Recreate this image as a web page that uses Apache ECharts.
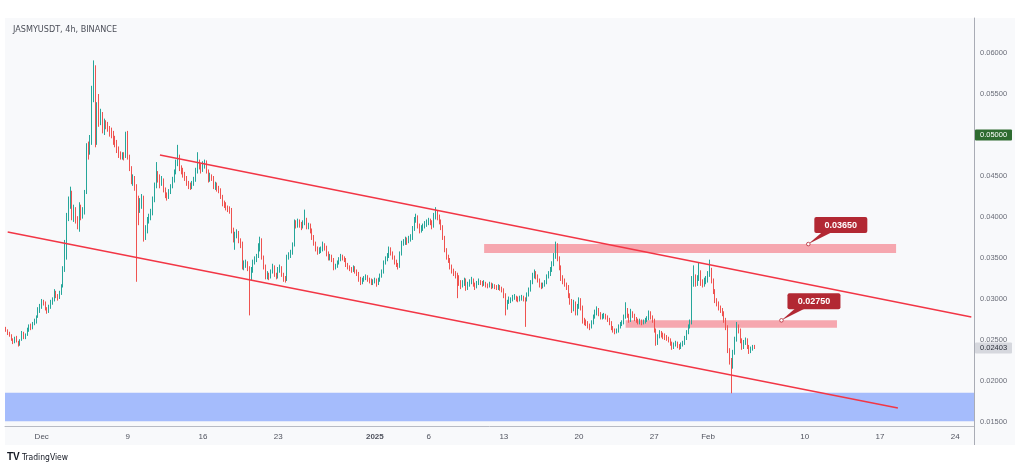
<!DOCTYPE html>
<html><head><meta charset="utf-8">
<script src="https://cdn.jsdelivr.net/npm/echarts@6/dist/echarts.min.js"></script>
<style>html,body{margin:0;padding:0;background:#fff}#c{width:1024px;height:471px}</style>
</head><body><div id="c"></div>
<script>
// ---------------- data ----------------
const chartTitle = 'JASMYUSDT, 4h, BINANCE';
const startTime = '2024-11-27T16:00:00Z';   // first 4h candle
const barHours = 4;
const slotCount = 541;                       // candles + empty future slots on the time axis
const priceUnit = 1e-5;                      // candle values below are in units of 0.00001
// [open, close, low, high]
const candles = [
[2640,2620,2600,2660],[2620,2580,2560,2630],
[2580,2560,2540,2600],[2560,2500,2490,2570],[2500,2470,2450,2520],[2470,2520,2460,2540],[2520,2480,2470,2550],[2480,2440,2420,2490],
[2440,2500,2430,2510],[2500,2590,2490,2610],[2590,2520,2510,2600],[2520,2560,2510,2580],[2560,2620,2550,2650],[2620,2660,2600,2690],
[2660,2640,2620,2700],[2640,2700,2630,2720],[2700,2720,2680,2760],[2720,2780,2700,2800],[2780,2850,2770,2900],[2850,2900,2830,2940],
[2900,2960,2880,3000],[2960,2950,2920,2990],[2950,2880,2860,2970],[2880,2840,2820,2900],[2840,2900,2830,2930],[2900,2950,2880,2990],
[2950,2990,2930,3020],[2990,3070,2970,3120],[3070,3040,3010,3100],[3040,3010,2980,3060],[3010,3060,3000,3100],[3060,3150,3050,3180],
[3150,3350,3140,3400],[3350,3680,3330,3720],[3680,4000,3480,4050],[4000,4150,3950,4250],[4150,4290,4100,4370],[4290,4000,3960,4320],
[4000,4080,3940,4150],[4080,3960,3920,4120],[3960,3900,3850,4010],[3900,4120,3820,4180],[4120,4000,3960,4150],[4000,4050,3980,4120],
[4050,4290,4030,4330],[4290,4850,4280,4900],[4850,4800,4700,4920],[4800,4900,4760,5000],[4900,5450,4880,5600],[5450,5790,5400,5910],
[5790,4900,4850,5850],[4900,5300,4880,5400],[5300,5180,5100,5500],[5180,5250,5120,5320],[5250,5060,5020,5280],[5060,5150,5000,5200],
[5150,5120,5070,5180],[5120,5080,5040,5160],[5080,5040,4980,5110],[5040,5000,4960,5090],[5000,4950,4880,5050],[4950,4900,4850,4990],
[4900,4820,4780,4940],[4820,4780,4720,4860],[4780,4730,4700,4800],[4730,4760,4700,4790],[4760,4730,4690,4790],[4730,5020,4720,5040],
[5020,4730,4700,5050],[4730,4600,4560,4760],[4600,4450,4400,4620],[4450,4480,4380,4520],[4480,4370,4320,4500],[4370,4240,3210,4400],
[4240,4090,3900,4260],[4090,4150,4050,4230],[4150,4240,4100,4280],[4240,3780,3700,4260],[3780,3850,3720,3900],[3850,3960,3800,4000],
[3960,3990,3920,4040],[3990,4050,3960,4100],[4050,4200,4020,4250],[4200,4370,4180,4420],[4370,4520,4350,4670],[4520,4480,4420,4560],
[4480,4400,4350,4520],[4400,4450,4380,4500],[4450,4330,4300,4470],[4330,4280,4230,4360],[4280,4240,4200,4300],[4240,4300,4220,4340],
[4300,4370,4280,4400],[4370,4450,4350,4490],[4450,4540,4420,4580],[4540,4650,4520,4700],[4650,4730,4620,4880],[4730,4600,4560,4760],
[4600,4570,4520,4630],[4570,4520,4480,4600],[4520,4480,4440,4550],[4480,4410,4380,4500],[4410,4390,4340,4440],[4390,4370,4330,4420],
[4370,4400,4340,4440],[4400,4450,4380,4490],[4450,4550,4430,4600],[4550,4660,4530,4790],[4660,4620,4580,4700],[4620,4570,4530,4650],
[4570,4620,4550,4680],[4620,4660,4590,4700],[4660,4560,4530,4690],[4560,4450,4420,4580],[4450,4500,4430,4540],[4500,4480,4440,4520],
[4480,4370,4340,4500],[4370,4400,4330,4430],[4400,4350,4310,4420],[4350,4330,4290,4380],[4330,4250,4220,4350],[4250,4170,4130,4270],
[4170,4150,4110,4200],[4150,4120,4080,4180],[4120,4100,4060,4140],[4100,4090,4040,4130],[4090,3840,3800,4110],[3840,3740,3690,3870],
[3740,3780,3600,3820],[3780,3800,3740,3850],[3800,3720,3680,3830],[3720,3680,3620,3740],[3680,3390,3360,3700],[3390,3420,3350,3470],
[3420,3440,3380,3480],[3440,3380,3340,3460],[3380,3270,2800,3400],[3270,3350,3230,3390],[3350,3440,3320,3480],[3440,3480,3420,3520],
[3480,3510,3450,3550],[3510,3600,3500,3680],[3600,3720,3580,3760],[3720,3510,3480,3740],[3510,3400,3360,3530],[3400,3270,3240,3420],
[3270,3300,3240,3340],[3300,3270,3230,3320],[3270,3330,3250,3360],[3330,3390,3310,3430],[3390,3300,3270,3410],[3300,3270,3240,3320],
[3270,3350,3250,3390],[3350,3380,3320,3420],[3380,3300,3270,3400],[3300,3250,3210,3320],[3250,3230,3200,3280],[3230,3510,3220,3540],
[3510,3530,3480,3570],[3530,3560,3500,3600],[3560,3650,3540,3690],[3650,3930,3640,3970],[3930,3900,3860,3960],[3900,3940,3870,3980],
[3940,3910,3870,3970],[3910,3880,3840,3940],[3880,3920,3860,3960],[3920,3960,3900,4090],[3960,3880,3850,3990],[3880,3900,3850,3930],
[3900,3840,3800,3920],[3840,3760,3720,3860],[3760,3680,3650,3780],[3680,3620,3580,3700],[3620,3570,3540,3640],[3570,3590,3550,3630],
[3590,3600,3560,3640],[3600,3650,3580,3700],[3650,3630,3590,3680],[3630,3560,3520,3650],[3560,3500,3470,3580],[3500,3520,3470,3550],
[3520,3480,3450,3540],[3480,3380,3350,3500],[3380,3400,3360,3430],[3400,3440,3380,3470],[3440,3480,3420,3510],[3480,3510,3460,3550],
[3510,3500,3470,3540],[3500,3480,3450,3520],[3480,3420,3390,3500],[3420,3390,3360,3440],[3390,3370,3340,3410],[3370,3350,3320,3390],
[3350,3380,3330,3410],[3380,3340,3310,3400],[3340,3320,3280,3360],[3320,3250,3210,3330],[3250,3200,3170,3270],[3200,3230,3180,3260],
[3230,3250,3210,3280],[3250,3270,3230,3300],[3270,3240,3210,3290],[3240,3230,3190,3260],[3230,3200,3170,3250],[3200,3210,3170,3240],
[3210,3230,3190,3260],[3230,3190,3150,3250],[3190,3230,3170,3260],[3230,3280,3210,3310],[3280,3320,3260,3360],[3320,3440,3310,3470],
[3440,3480,3420,3520],[3480,3520,3460,3560],[3520,3600,3500,3640],[3600,3560,3530,3630],[3560,3510,3480,3580],[3510,3460,3420,3530],
[3460,3420,3390,3480],[3420,3390,3360,3440],[3390,3550,3380,3580],[3550,3680,3530,3710],[3680,3690,3650,3730],[3690,3720,3660,3760],
[3720,3700,3660,3750],[3700,3730,3680,3770],[3730,3740,3700,3790],[3740,3850,3720,3890],[3850,3960,3830,4000],[3960,4000,3930,4040],
[4000,3900,3860,4020],[3900,3840,3800,3920],[3840,3860,3810,3900],[3860,3880,3830,3920],[3880,3910,3860,3950],[3910,3930,3880,3970],
[3930,3960,3900,3990],[3960,3940,3900,3980],[3940,3880,3850,3960],[3880,4000,3870,4050],[4000,4050,3970,4120],[4050,4000,3960,4080],
[4000,3950,3910,4030],[3950,3880,3840,3970],[3880,3750,3720,3900],[3750,3600,3570,3770],[3600,3520,3480,3620],[3520,3480,3440,3540],
[3480,3400,3360,3500],[3400,3350,3310,3420],[3350,3320,3280,3370],[3320,3300,3250,3340],[3300,3270,3010,3320],[3270,3200,3160,3290],
[3200,3170,3120,3230],[3170,3190,3140,3230],[3190,3230,3160,3260],[3230,3130,3100,3250],[3130,3180,3110,3210],[3180,3200,3150,3240],
[3200,3230,3180,3270],[3230,3180,3150,3250],[3180,3150,3110,3200],[3150,3190,3130,3220],[3190,3210,3170,3250],[3210,3200,3170,3230],
[3200,3180,3150,3220],[3180,3200,3160,3230],[3200,3170,3140,3210],[3170,3160,3130,3190],[3160,3180,3140,3210],[3180,3150,3120,3200],
[3150,3160,3130,3190],[3160,3150,3120,3180],[3150,3140,3110,3170],[3140,3150,3110,3180],[3150,3130,3100,3170],[3130,3110,3080,3150],
[3110,3050,3010,3130],[3050,2900,2800,3070],[2900,2960,2870,2990],[2960,2990,2940,3030],[2990,2990,2950,3020],[2990,3020,2970,3050],
[3020,3020,2990,3060],[3020,3000,2970,3040],[3000,2990,2960,3030],[2990,3010,2970,3040],[3010,3020,2980,3050],[3020,3000,2970,3040],
[3000,2990,2660,3020],[2990,3050,2970,3080],[3050,3110,3030,3140],[3110,3200,3090,3230],[3200,3280,3180,3320],[3280,3320,3250,3360],
[3320,3280,3240,3340],[3280,3230,3200,3300],[3230,3180,3140,3250],[3180,3150,3120,3200],[3150,3170,3130,3200],[3170,3200,3150,3230],
[3200,3270,3180,3300],[3270,3300,3250,3340],[3300,3350,3280,3390],[3350,3420,3330,3460],[3420,3510,3400,3560],[3510,3630,3490,3700],
[3630,3500,3460,3680],[3500,3390,3350,3520],[3390,3260,3220,3410],[3260,3220,3180,3290],[3220,3180,3150,3250],[3180,3150,3110,3200],
[3150,3050,3010,3170],[3050,2970,2930,3070],[2970,2870,2830,3000],[2870,2950,2850,2990],[2950,2830,2800,2970],[2830,2900,2800,2940],
[2900,2990,2880,3020],[2990,2900,2860,3010],[2900,2740,2700,2920],[2740,2720,2680,2770],[2720,2710,2670,2750],[2710,2680,2640,2730],
[2680,2660,2620,2700],[2660,2700,2640,2740],[2700,2780,2690,2810],[2780,2830,2760,2870],[2830,2870,2800,2910],[2870,2820,2790,2890],
[2820,2780,2750,2840],[2780,2790,2750,2820],[2790,2800,2760,2830],[2800,2780,2750,2820],[2780,2750,2720,2800],[2750,2710,2680,2770],
[2710,2650,2620,2730],[2650,2620,2590,2670],[2620,2600,2570,2640],[2600,2610,2580,2640],[2610,2660,2590,2690],[2660,2690,2640,2720],
[2690,2710,2670,2740],[2710,2780,2690,2810],[2780,2870,2760,2960],[2870,2800,2770,2890],[2800,2740,2710,2820],[2740,2830,2720,2880],
[2830,2800,2770,2850],[2800,2760,2730,2820],[2760,2740,2710,2780],[2740,2720,2690,2760],[2720,2730,2690,2760],[2730,2710,2680,2750],
[2710,2720,2690,2750],[2720,2740,2700,2770],[2740,2760,2720,2790],[2760,2830,2740,2860],[2830,2780,2750,2850],[2780,2740,2710,2800],
[2740,2620,2590,2760],[2620,2460,2430,2640],[2460,2540,2440,2570],[2540,2590,2520,2620],[2590,2570,2530,2610],[2570,2550,2510,2590],
[2550,2540,2500,2580],[2540,2520,2490,2560],[2520,2500,2470,2540],[2500,2460,2430,2520],[2460,2410,2380,2480],[2410,2440,2390,2470],
[2440,2460,2420,2490],[2460,2430,2400,2480],[2430,2410,2380,2450],[2410,2440,2390,2470],[2440,2460,2420,2490],[2460,2520,2440,2550],
[2520,2590,2500,2620],[2590,2660,2570,2690],[2660,2700,2640,2750],[2700,3200,2690,3280],[3200,3270,3150,3410],[3270,3200,3150,3300],
[3200,3250,3160,3290],[3250,3320,3220,3440],[3320,3200,3160,3350],[3200,3180,3140,3240],[3180,3220,3150,3260],[3220,3230,3180,3280],
[3230,3300,3200,3340],[3300,3350,3270,3480],[3350,3230,3190,3380],[3230,3100,3060,3250],[3100,2990,2950,3120],[2990,2950,2910,3010],
[2950,2900,2860,2970],[2900,2870,2830,2920],[2870,2830,2790,2890],[2830,2750,2710,2850],[2750,2660,2620,2770],[2660,2380,2340,2680],
[2380,2250,2200,2400],[2250,2170,1850,2280],[2170,2340,2150,2380],[2340,2500,2320,2540],[2500,2660,2480,2720],[2660,2620,2580,2690],
[2620,2500,2460,2640],[2500,2410,2380,2520],[2410,2470,2390,2500],[2470,2500,2440,2530],[2500,2420,2390,2520],[2420,2380,2330,2440],
[2380,2390,2340,2420],[2390,2420,2370,2440],[2420,2403,2390,2440]
];
const priceTicks = [0.015,0.020,0.025,0.030,0.035,0.040,0.045,0.050,0.055,0.060];
const timeTicks = [
  ['2024-12-01 00:00','Dec'],['2024-12-09 00:00','9'],['2024-12-16 00:00','16'],['2024-12-23 00:00','23'],
  ['2025-01-01 00:00','2025'],['2025-01-06 00:00','6'],['2025-01-13 00:00','13'],['2025-01-20 00:00','20'],
  ['2025-01-27 00:00','27'],['2025-02-01 00:00','Feb'],['2025-02-10 00:00','10'],['2025-02-17 00:00','17'],
  ['2025-02-24 00:00','24']
];
const priceRange = [0.01451, 0.06427];
const keyLevel = 0.05;
const lastPrice = 0.02403;
// channel lines: [time, price] end points
const upperChannel = [['2024-12-12 00:00', 0.04756], ['2025-02-25 12:00', 0.02780]];
const lowerChannel = [['2024-11-27 20:00', 0.03817], ['2025-02-18 16:00', 0.01671]];
// zones: [fromTime, toTime, lowPrice, highPrice]
const upperZone = ['2025-01-11 04:00', '2025-02-18 12:00', 0.03560, 0.03670];
const lowerZone = ['2025-01-24 08:00', '2025-02-13 00:00', 0.02650, 0.02740];
const supportZone = [0.01510, 0.01855];
// callouts: [anchorTime, anchorPrice, text]
const callouts = [
  ['2025-02-10 08:00', 0.03670, '0.03650'],
  ['2025-02-07 20:00', 0.02740, '0.02750']
];

// ---------------- build ----------------
function fmt(ms){
  const d = new Date(ms);
  const p = n => String(n).padStart(2,'0');
  return d.getUTCFullYear()+'-'+p(d.getUTCMonth()+1)+'-'+p(d.getUTCDate())+' '+p(d.getUTCHours())+':'+p(d.getUTCMinutes());
}
const t0 = Date.parse(startTime);
const categories = [];
for (let k = 0; k < slotCount; k++) categories.push(fmt(t0 + k*barHours*3600e3));
const seriesData = candles.map(c => c.map(v => +(v*priceUnit).toFixed(5)));
const tickMap = {};
timeTicks.forEach(t => tickMap[t[0]] = t[1]);

const FONT = 'Liberation Sans, Arial, sans-serif';
const NARROW = '"Liberation Sans Narrow", "DejaVu Sans Condensed", "Liberation Sans", sans-serif';
const UP = '#26a69a', DOWN = '#ef5350';
const GRID = {left: 5, right: 50, top: 18, bottom: 45};

const chart = echarts.init(document.getElementById('c'), null, {renderer: 'canvas'});
chart.setOption({
  animation: false,
  backgroundColor: '#ffffff',
  grid: Object.assign({containLabel: false}, GRID),
  xAxis: {
    type: 'category', data: categories, boundaryGap: true,
    axisLine: {show: true, lineStyle: {color: '#b8bbc4', width: 1}},
    axisTick: {show: false},
    splitLine: {show: false},
    axisLabel: {
      interval: (i, v) => tickMap[v] !== undefined,
      formatter: v => tickMap[v] === '2025' ? '{b|2025}' : (tickMap[v] || ''),
      color: '#50535e', fontSize: 8, fontFamily: FONT, margin: 7,
      rich: {b: {fontWeight: 'bold', fontSize: 8, color: '#50535e', fontFamily: FONT}}
    }
  },
  yAxis: {
    type: 'value', position: 'right', min: priceRange[0], max: priceRange[1], scale: true,
    axisLine: {show: true, lineStyle: {color: '#a9acb5', width: 1}},
    axisTick: {show: false},
    splitLine: {show: false},
    axisLabel: {
      customValues: priceTicks,
      formatter: v => v.toFixed(5),
      color: '#6a6d78', fontSize: 7.5, fontFamily: FONT, margin: 6
    }
  },
  series: [{
    type: 'candlestick',
    data: seriesData,
    barWidth: 1.1,
    itemStyle: {color: UP, color0: DOWN, borderColor: UP, borderColor0: DOWN, borderWidth: 1},
    markArea: {
      silent: true,
      data: [
        [{yAxis: supportZone[0], itemStyle: {color: 'rgba(41,98,255,0.40)'}}, {yAxis: supportZone[1]}],
        [{coord: [upperZone[0], upperZone[2]], itemStyle: {color: 'rgba(242,54,69,0.42)'}}, {coord: [upperZone[1], upperZone[3]]}],
        [{coord: [lowerZone[0], lowerZone[2]], itemStyle: {color: 'rgba(242,54,69,0.42)'}}, {coord: [lowerZone[1], lowerZone[3]]}]
      ]
    },
    markLine: {
      silent: true, symbol: ['none','none'], label: {show: false},
      data: [
        [{yAxis: keyLevel, lineStyle: {color: '#2e7d32', width: 1.5, type: 'solid'}}, {yAxis: keyLevel}],
        [{coord: upperChannel[0], lineStyle: {color: '#f23645', width: 1.4, type: 'solid'}}, {coord: upperChannel[1]}],
        [{coord: lowerChannel[0], lineStyle: {color: '#f23645', width: 1.4, type: 'solid'}}, {coord: lowerChannel[1]}]
      ]
    }
  }]
});

// annotation overlays positioned from data coordinates
const px = (t, p) => chart.convertToPixel({xAxisIndex: 0, yAxisIndex: 0}, [t, p]);
const axisX = 1024 - GRID.right;
const g = [];
g.push({type: 'rect', z: -10, silent: true, shape: {x: 5, y: 18, width: 1010, height: 427}, style: {fill: '#f8f9fb'}});
g.push({type: 'line', z: 10, silent: true, shape: {x1: axisX+0.5, y1: 471-GRID.bottom, x2: axisX+0.5, y2: 445}, style: {stroke: '#a9acb5', lineWidth: 1}});
g.push({type: 'text', z: 20, left: 13, top: 25, style: {text: chartTitle, fill: '#4b4e58', font: '9px ' + NARROW}});
function axisTag(price, text, bg, fg){
  const y = px(categories[0], price)[1];
  g.push({type: 'rect', z: 30, silent: true, shape: {x: axisX+1, y: y-5.5, width: 37, height: 11, r: 1}, style: {fill: bg}});
  g.push({type: 'text', z: 31, silent: true, x: axisX+6, y: y, style: {text: text, fill: fg, font: '7.5px ' + FONT, verticalAlign: 'middle'}});
}
axisTag(keyLevel, keyLevel.toFixed(5), '#2e6b30', '#ffffff');
axisTag(lastPrice, lastPrice.toFixed(5), '#d6d8de', '#2a2e39');
callouts.forEach(c => {
  const a = px(c[0], c[1]);
  const bx = a[0] + 6, by = a[1] - 27, bw = 53, bh = 16;
  g.push({type: 'polygon', z: 40, silent: true, shape: {points: [[bx+8, by+bh-1], [bx+18, by+bh-1], [a[0], a[1]]]}, style: {fill: '#b22833'}});
  g.push({type: 'rect', z: 41, silent: true, shape: {x: bx, y: by, width: bw, height: bh, r: 2}, style: {fill: '#b22833'}});
  g.push({type: 'text', z: 42, silent: true, x: bx + bw/2, y: by + bh/2, style: {text: c[2], fill: '#ffffff', font: 'bold 9px ' + FONT, align: 'center', verticalAlign: 'middle'}});
  g.push({type: 'circle', z: 43, silent: true, shape: {cx: a[0], cy: a[1], r: 1.8}, style: {fill: '#ffffff', stroke: '#b22833', lineWidth: 0.8}});
});
// TradingView footer
g.push({type: 'text', z: 20, left: 7, top: 452, style: {text: 'TV', fill: '#131722', font: 'bold 10px ' + FONT}});
g.push({type: 'text', z: 20, left: 22, top: 453, style: {text: 'TradingView', fill: '#131722', font: '8.5px ' + NARROW}});
chart.setOption({graphic: g});
</script></body></html>
